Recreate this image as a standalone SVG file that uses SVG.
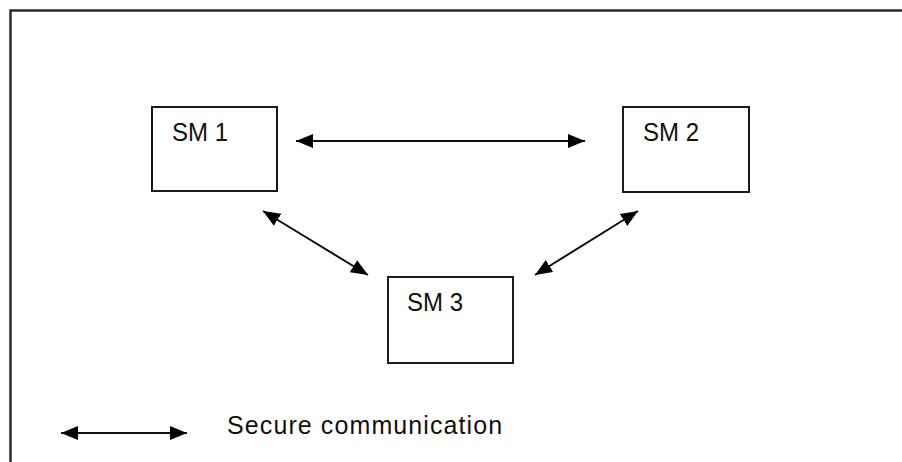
<svg xmlns="http://www.w3.org/2000/svg" width="902" height="462" viewBox="0 0 902 462">
  <style>
    .box { fill: #ffffff; stroke: #1a1a1a; stroke-width: 2; }
    .lbl { font-family: "Liberation Sans", Arial, sans-serif; font-size: 25px; fill: #111111; }
    .legend { font-family: "Liberation Sans", Arial, sans-serif; font-size: 25px; fill: #111111; letter-spacing: 1.1px; }
    .link { stroke: #111111; stroke-width: 2; fill: none; marker-start: url(#head); marker-end: url(#head); }
    .frame { stroke: #2a2a2a; stroke-width: 2.5; fill: none; }
  </style>
  <defs>
    <marker id="head" markerUnits="userSpaceOnUse" markerWidth="18" markerHeight="16" refX="17" refY="7" orient="auto-start-reverse" viewBox="0 0 18 14">
      <path d="M0,0 L17,7 L0,14 z" fill="#000000"/>
    </marker>
  </defs>
  <rect width="902" height="462" fill="#ffffff"/>
  <!-- outer frame: top and left edges only -->
  <path class="frame" d="M10.5,462 L10.5,10.5 L902,10.5"/>

  <g id="sm1">
    <rect class="box" x="152" y="107" width="125" height="84"/>
    <text class="lbl" x="172" y="141" textLength="56" lengthAdjust="spacingAndGlyphs">SM 1</text>
  </g>
  <g id="sm2">
    <rect class="box" x="623" y="107" width="126" height="85"/>
    <text class="lbl" x="643" y="141" textLength="56" lengthAdjust="spacingAndGlyphs">SM 2</text>
  </g>
  <g id="sm3">
    <rect class="box" x="388" y="277" width="125" height="86"/>
    <text class="lbl" x="407" y="311" textLength="56" lengthAdjust="spacingAndGlyphs">SM 3</text>
  </g>

  <g id="connectors">
    <line class="link" x1="296" y1="141" x2="585" y2="141"/>
    <line class="link" x1="263" y1="211" x2="368" y2="275"/>
    <line class="link" x1="638" y1="211" x2="535" y2="275"/>
  </g>

  <g id="legend">
    <line class="link" x1="61" y1="433" x2="187" y2="433"/>
    <text class="legend" x="227" y="434">Secure communication</text>
  </g>
</svg>
